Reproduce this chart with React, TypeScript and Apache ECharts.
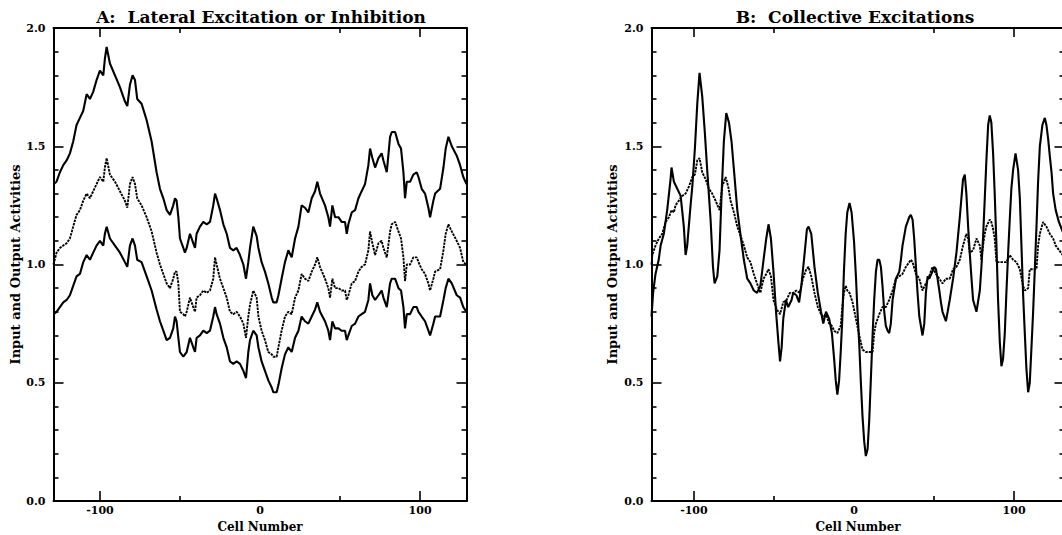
import React, { useEffect, useRef } from 'react';
import * as echarts from 'echarts';

// ---------- Panel A: Lateral Excitation or Inhibition ----------
const aCells = [
  -129, -127.1, -125, -122.9, -120.8, -118.75, -116.7, -114.6, -112.5, -110.4,
  -108.3, -106.25, -104.2, -102.1, -100, -97.9, -96.9, -95.8, -93.75, -90.6,
  -87.5, -84.4, -82.9, -81.25, -79.6, -78.1, -76.7, -74, -70.8, -67.7,
  -64.6, -62.5, -60.4, -58.3, -56.25, -54.2, -53.1, -52.1, -51, -50,
  -47.9, -46.9, -45.8, -43.75, -41.7, -40.6, -39.6, -37.5, -35.4, -33.3,
  -31.25, -29.2, -28.1, -27.1, -25, -22.9, -20.8, -18.75, -16.7, -14.6,
  -12.5, -10.4, -8.75, -7.3, -6.25, -4.2, -2.1, -1, 1, 3.1,
  5.2, 7.3, 8.3, 10.4, 11.5, 13.5, 15.6, 17.7, 19.8, 21.9,
  24, 26, 28.1, 30.2, 32.3, 34.4, 35.8, 37.5, 40.6, 42.7,
  43.75, 45.2, 46.9, 49, 51, 53.1, 54.2, 55.2, 57.3, 59.4,
  61.5, 63.5, 65.6, 67.7, 68.75, 70.2, 71.9, 74, 76, 77.1,
  79.2, 81.25, 82.3, 84.4, 86.5, 88.1, 89.6, 90.6, 91.7, 93.75,
  95.8, 97.9, 99, 101, 103.1, 105.2, 106.25, 108.3, 109.4, 112.5,
  114.6, 116, 117.7, 119.8, 122.9, 125, 127, 129,
];
const aExcitation = [
  1.34, 1.35, 1.39, 1.42, 1.44, 1.47, 1.52, 1.59, 1.62, 1.65,
  1.72, 1.70, 1.73, 1.78, 1.82, 1.80, 1.87, 1.92, 1.85, 1.80,
  1.75, 1.69, 1.67, 1.76, 1.80, 1.78, 1.70, 1.68, 1.61, 1.52,
  1.39, 1.32, 1.28, 1.23, 1.21, 1.25, 1.28, 1.27, 1.20, 1.11,
  1.07, 1.05, 1.07, 1.13, 1.09, 1.07, 1.13, 1.16, 1.18, 1.17,
  1.18, 1.25, 1.30, 1.28, 1.23, 1.17, 1.13, 1.07, 1.06, 1.07,
  1.04, 1.00, 0.94, 1.01, 1.07, 1.16, 1.12, 1.07, 1.01, 0.97,
  0.92, 0.86, 0.84, 0.84, 0.87, 0.94, 1.01, 1.06, 1.03, 1.11,
  1.16, 1.25, 1.24, 1.22, 1.28, 1.31, 1.35, 1.30, 1.25, 1.20,
  1.16, 1.25, 1.20, 1.20, 1.18, 1.18, 1.13, 1.17, 1.22, 1.23,
  1.28, 1.31, 1.34, 1.42, 1.49, 1.45, 1.41, 1.45, 1.47, 1.44,
  1.39, 1.54, 1.56, 1.56, 1.51, 1.49, 1.39, 1.28, 1.35, 1.35,
  1.38, 1.39, 1.37, 1.32, 1.30, 1.24, 1.20, 1.27, 1.30, 1.32,
  1.41, 1.49, 1.54, 1.50, 1.46, 1.42, 1.37, 1.34,
];
const aInput = [
  1.00, 1.05, 1.07, 1.08, 1.09, 1.11, 1.16, 1.21, 1.23, 1.27,
  1.30, 1.28, 1.31, 1.34, 1.37, 1.35, 1.41, 1.45, 1.38, 1.35,
  1.31, 1.27, 1.24, 1.34, 1.37, 1.34, 1.28, 1.25, 1.20, 1.14,
  1.05, 1.00, 0.96, 0.92, 0.90, 0.94, 0.97, 0.97, 0.92, 0.80,
  0.79, 0.78, 0.80, 0.86, 0.82, 0.80, 0.86, 0.87, 0.89, 0.88,
  0.89, 0.94, 1.03, 1.00, 0.94, 0.90, 0.86, 0.80, 0.79, 0.80,
  0.78, 0.75, 0.69, 0.78, 0.83, 0.89, 0.86, 0.78, 0.72, 0.68,
  0.63, 0.62, 0.61, 0.61, 0.65, 0.72, 0.78, 0.80, 0.79, 0.86,
  0.89, 0.96, 0.94, 0.93, 0.97, 1.00, 1.03, 0.99, 0.94, 0.90,
  0.86, 0.94, 0.90, 0.90, 0.89, 0.89, 0.85, 0.87, 0.92, 0.93,
  0.97, 0.99, 1.00, 1.06, 1.14, 1.09, 1.04, 1.09, 1.10, 1.07,
  1.03, 1.14, 1.17, 1.18, 1.14, 1.11, 1.03, 0.93, 1.00, 1.00,
  1.03, 1.03, 1.01, 0.98, 0.96, 0.92, 0.89, 0.94, 0.97, 0.98,
  1.06, 1.13, 1.17, 1.14, 1.10, 1.07, 1.01, 1.00,
];
const aInhibition = [
  0.79, 0.80, 0.82, 0.84, 0.85, 0.87, 0.91, 0.95, 0.96, 1.01,
  1.04, 1.02, 1.05, 1.08, 1.10, 1.08, 1.13, 1.16, 1.11, 1.08,
  1.05, 1.01, 0.99, 1.08, 1.11, 1.08, 1.02, 1.01, 0.95, 0.89,
  0.81, 0.76, 0.72, 0.68, 0.69, 0.73, 0.78, 0.76, 0.69, 0.63,
  0.61, 0.62, 0.63, 0.69, 0.65, 0.63, 0.69, 0.70, 0.72, 0.71,
  0.72, 0.78, 0.82, 0.79, 0.75, 0.69, 0.65, 0.59, 0.58, 0.59,
  0.58, 0.55, 0.52, 0.63, 0.68, 0.72, 0.70, 0.65, 0.59, 0.55,
  0.51, 0.48, 0.46, 0.46, 0.49, 0.56, 0.62, 0.65, 0.63, 0.69,
  0.72, 0.78, 0.76, 0.75, 0.78, 0.81, 0.84, 0.80, 0.76, 0.72,
  0.68, 0.76, 0.73, 0.73, 0.72, 0.72, 0.68, 0.70, 0.74, 0.75,
  0.78, 0.79, 0.80, 0.85, 0.92, 0.87, 0.85, 0.87, 0.89, 0.86,
  0.82, 0.92, 0.94, 0.94, 0.90, 0.89, 0.82, 0.73, 0.79, 0.79,
  0.82, 0.82, 0.80, 0.78, 0.76, 0.72, 0.70, 0.75, 0.78, 0.78,
  0.85, 0.90, 0.94, 0.92, 0.87, 0.86, 0.82, 0.80,
];

// ---------- Panel B: Collective Excitations ----------
const bCellsOut = [
  -126.5, -125.5, -124, -122, -120.8, -118.8, -116.7, -114.6, -114, -112.5,
  -110.4, -108.3, -106.3, -105.2, -104.2, -102.1, -101, -99.4, -97.9, -96.5,
  -94.8, -93.2, -91.7, -89.6, -88.1, -87.1, -85.4, -84, -82.7, -81.3,
  -79.8, -78.1, -76.5, -75, -72.9, -70.8, -68.8, -66.7, -64.7, -62.6,
  -60.6, -58.5, -56.5, -54.8, -53.4, -51.9, -50.3, -48.7, -47.2, -46.2,
  -45.2, -44.2, -42.5, -41.1, -39, -38, -36, -34.3, -32.9, -30.8,
  -29.4, -28.4, -26.7, -24.7, -22.6, -20.6, -19.2, -17.5, -15.5, -13.8,
  -12.4, -11.4, -10.4, -9.3, -8.3, -7.3, -6.3, -5.2, -4.2, -2.8,
  -1.5, 0, 1.2, 2.2, 3.3, 4.3, 5.3, 6.4, 7.4, 8.5,
  9.5, 10.5, 11.6, 12.6, 13.7, 14.7, 15.8, 16.8, 17.8, 18.9,
  19.9, 21, 22, 23, 24.1, 26.2, 28.3, 29.3, 30.3, 32.4,
  34.5, 35.5, 36.6, 37.6, 38.7, 39.7, 40.8, 41.8, 42.8, 43.9,
  44.9, 46, 47, 49, 50.1, 51.2, 52.2, 53.3, 54.3, 55.3,
  57.4, 58.5, 59.8, 61.9, 64, 66.1, 68.1, 69.2, 70.2, 71.3,
  72.3, 73.3, 74.4, 76.5, 78.6, 79.6, 80.6, 81.7, 82.7, 83.8,
  84.8, 85.8, 86.9, 87.9, 89, 90, 91.1, 92.1, 93.1, 94.2,
  95.2, 96.3, 97.3, 98.3, 99.4, 100.9, 102.5, 103.6, 104.6, 105.6,
  106.7, 107.7, 108.8, 109.8, 110.8, 111.9, 112.9, 114, 115, 116.1,
  117.7, 119.2, 120.2, 121.3, 122.3, 123.4, 124.4, 126, 128, 131.5,
];
const bOutput = [
  0.78, 0.88, 0.96, 1.02, 1.08, 1.13, 1.23, 1.36, 1.41, 1.35,
  1.32, 1.29, 1.16, 1.04, 1.08, 1.25, 1.33, 1.49, 1.68, 1.81,
  1.71, 1.56, 1.40, 1.19, 0.99, 0.92, 0.95, 1.06, 1.30, 1.52,
  1.64, 1.60, 1.52, 1.40, 1.23, 1.12, 1.02, 0.94, 0.92, 0.89,
  0.88, 0.91, 1.02, 1.11, 1.17, 1.11, 0.97, 0.80, 0.67, 0.59,
  0.65, 0.77, 0.85, 0.82, 0.85, 0.88, 0.87, 0.84, 0.91, 1.05,
  1.15, 1.16, 1.13, 0.99, 0.88, 0.80, 0.75, 0.80, 0.77, 0.71,
  0.60, 0.51, 0.45, 0.51, 0.63, 0.77, 0.97, 1.13, 1.22, 1.26,
  1.22, 1.10, 0.95, 0.80, 0.66, 0.50, 0.36, 0.25, 0.19, 0.22,
  0.34, 0.51, 0.70, 0.85, 0.97, 1.02, 1.02, 0.99, 0.91, 0.80,
  0.74, 0.72, 0.71, 0.75, 0.85, 0.94, 0.97, 1.02, 1.08, 1.16,
  1.20, 1.21, 1.19, 1.11, 0.99, 0.88, 0.78, 0.74, 0.70, 0.75,
  0.88, 0.95, 0.94, 0.97, 0.99, 0.98, 0.94, 0.89, 0.84, 0.80,
  0.76, 0.80, 0.85, 0.94, 1.05, 1.20, 1.36, 1.38, 1.30, 1.16,
  1.05, 0.95, 0.85, 0.80, 0.89, 0.99, 1.11, 1.28, 1.44, 1.59,
  1.63, 1.60, 1.47, 1.30, 1.08, 0.85, 0.67, 0.57, 0.60, 0.71,
  0.88, 1.05, 1.19, 1.32, 1.40, 1.47, 1.40, 1.28, 1.08, 0.88,
  0.71, 0.56, 0.46, 0.50, 0.64, 0.80, 0.97, 1.16, 1.35, 1.50,
  1.59, 1.62, 1.59, 1.53, 1.46, 1.39, 1.30, 1.23, 1.18, 1.12,
];
const bCellsIn = [
  -126.5, -126, -124, -121.9, -119.8, -117.7, -115.6, -114, -112.5, -111.5,
  -109.4, -107.3, -105.2, -103.1, -101, -99.4, -97.9, -96.5, -94.8, -92.7,
  -90.6, -88.6, -86.5, -84, -82.3, -80.2, -78.6, -77.1, -75, -72.9,
  -70.8, -68.8, -66.7, -64.7, -62.6, -60.6, -58.5, -56.5, -54.8, -53.4,
  -51.9, -50.3, -48.2, -46.2, -44.2, -42.1, -40.1, -38, -36, -33.9,
  -31.9, -29.8, -28.4, -26.7, -24.7, -22.6, -20.6, -19.2, -17.5, -15.5,
  -13.8, -12.4, -10.4, -8.3, -7.3, -6.3, -5.2, -4.2, -2.8, -0.9,
  1.2, 3.3, 5.3, 7.4, 9.5, 11.6, 12.6, 13.7, 15.8, 17.8,
  19.9, 22, 24.1, 26.2, 28.3, 30.3, 32.4, 34.5, 35.5, 36.6,
  38.7, 40.8, 42.8, 44.9, 47, 49, 51.2, 53.3, 55.3, 57.4,
  59.8, 61.9, 64, 66.1, 68.1, 70.2, 71.3, 72.3, 74.4, 76.5,
  78.6, 79.6, 80.6, 81.7, 82.7, 84.8, 85.8, 86.9, 87.9, 89,
  91.1, 93.1, 95.2, 97.3, 98.3, 99.4, 101.5, 103.6, 105.6, 106.7,
  108.8, 109.8, 111.9, 114, 115, 116.1, 118.1, 120.2, 122.3, 124.4,
  126, 131.5,
];
const bInput = [
  1.00, 1.04, 1.08, 1.11, 1.13, 1.18, 1.20, 1.23, 1.22, 1.25,
  1.27, 1.29, 1.30, 1.33, 1.37, 1.38, 1.44, 1.45, 1.39, 1.36,
  1.32, 1.30, 1.27, 1.23, 1.33, 1.37, 1.33, 1.27, 1.22, 1.16,
  1.12, 1.08, 1.03, 1.01, 0.96, 0.92, 0.88, 0.94, 0.96, 0.98,
  0.95, 0.85, 0.81, 0.79, 0.84, 0.85, 0.88, 0.88, 0.89, 0.88,
  0.94, 0.98, 0.99, 0.95, 0.88, 0.82, 0.79, 0.78, 0.79, 0.75,
  0.74, 0.72, 0.71, 0.74, 0.82, 0.88, 0.91, 0.89, 0.88, 0.84,
  0.77, 0.70, 0.64, 0.63, 0.63, 0.63, 0.71, 0.75, 0.79, 0.82,
  0.82, 0.85, 0.89, 0.94, 0.95, 0.96, 0.99, 1.01, 1.02, 1.01,
  0.96, 0.94, 0.89, 0.92, 0.95, 0.99, 0.96, 0.94, 0.92, 0.94,
  0.94, 0.98, 0.99, 1.02, 1.08, 1.13, 1.11, 1.05, 1.06, 1.11,
  1.08, 1.02, 1.08, 1.13, 1.16, 1.19, 1.18, 1.15, 1.11, 1.01,
  1.01, 1.01, 1.01, 1.04, 1.03, 1.02, 1.01, 0.98, 0.91, 0.89,
  0.90, 0.98, 0.98, 0.98, 1.08, 1.13, 1.18, 1.16, 1.13, 1.11,
  1.08, 1.03,
];

// ---------- Axis texts and ticks ----------
const titles = ['A:  Lateral Excitation or Inhibition', 'B:  Collective Excitations'];
const xName = 'Cell Number';
const yName = 'Input and Output Activities';
const xLabelValues = [-100, 0, 100];
const xMajorSpan = 100; // major ticks at -100, 0, 100
const xMinorSpan = 50;  // minor ticks at -50, 50
const aRange = [-129, 129];
const bRange = [-126.5, 131.5];

const FONT = '"DejaVu Serif", "Liberation Serif", serif';
const BLACK = '#000';
const TICK_STYLE = { color: BLACK, width: 1.6 };
const AXIS_STYLE = { color: BLACK, width: 2 };

function pairs(xs: number[], ys: number[]) {
  return xs.map((x, i) => [x, ys[i]]);
}

type PanelCfg = { left: number; top: number; width: number; height: number; range: number[]; nameGap: number };

// One panel = a main grid (data, labels, frame) plus thin helper grids whose
// outward-pointing axis ticks land inside the main plot box.
function buildPanel(p: PanelCfg, gridBase: number) {
  const { left, top, width, height, range } = p;
  const bottom = top + height;
  const ppc = width / (range[1] - range[0]);
  const spanGrid = (span: number, y: number, h: number) => ({
    left: left + (-span - range[0]) * ppc, top: y, width: 2 * span * ppc, height: h, outerBoundsMode: 'none',
  });
  const grids = [
    { left, top, width, height, outerBoundsMode: 'none' },                   // 0 main
    { left: left - 50, top, width: 50, height, outerBoundsMode: 'none' },    // 1 left-edge ticks
    { left: left + width, top, width: 40, height, outerBoundsMode: 'none' }, // 2 right-edge ticks
    spanGrid(xMajorSpan, bottom, 20),                                        // 3 bottom major ticks
    spanGrid(xMinorSpan, bottom, 20),                                        // 4 bottom minor ticks
    spanGrid(xMajorSpan, top - 20, 20),                                      // 5 top major ticks
    spanGrid(xMinorSpan, top - 20, 20),                                      // 6 top minor ticks
  ];
  const hidden = (g: number) => ({ type: 'value', gridIndex: g, show: false, min: 0, max: 1 });
  const xTickAxis = (g: number, position: string, length: number, span: number) => ({
    type: 'value', gridIndex: g, position, min: -span, max: span, interval: 2 * span,
    splitLine: { show: false },
    axisLine: { show: false, onZero: false },
    axisTick: { show: true, inside: false, length, lineStyle: TICK_STYLE },
    axisLabel: { show: false },
  });
  const yTickAxis = (g: number, position: string, line: boolean) => ({
    type: 'value', gridIndex: g, position, min: 0, max: 2, interval: 0.5,
    splitLine: { show: false }, minorSplitLine: { show: false },
    axisLine: { show: line, onZero: false, lineStyle: AXIS_STYLE },
    axisTick: { show: true, inside: false, length: 10, lineStyle: TICK_STYLE },
    minorTick: { show: true, splitNumber: 5, length: 5, lineStyle: TICK_STYLE },
    axisLabel: { show: false },
  });

  const xAxes = [
    {
      type: 'value', gridIndex: gridBase, position: 'bottom', min: range[0], max: range[1],
      splitLine: { show: false },
      axisLine: { show: true, onZero: false, lineStyle: AXIS_STYLE },
      axisTick: { show: false },
      axisLabel: {
        show: true, customValues: xLabelValues, margin: 4, color: BLACK,
        fontFamily: FONT, fontWeight: 'bold', fontSize: 11,
      },
      name: xName, nameLocation: 'middle', nameGap: 18,
      nameTextStyle: { color: BLACK, fontFamily: FONT, fontWeight: 'bold', fontSize: 12 },
    },
    {
      type: 'value', gridIndex: gridBase, position: 'top', min: range[0], max: range[1],
      splitLine: { show: false },
      axisLine: { show: true, onZero: false, lineStyle: AXIS_STYLE },
      axisTick: { show: false },
      axisLabel: { show: false },
    },
    hidden(gridBase + 1),
    hidden(gridBase + 2),
    xTickAxis(gridBase + 3, 'top', 10, xMajorSpan),
    xTickAxis(gridBase + 4, 'top', 5, xMinorSpan),
    xTickAxis(gridBase + 5, 'bottom', 9, xMajorSpan),
    xTickAxis(gridBase + 6, 'bottom', 5, xMinorSpan),
  ];
  const yAxes = [
    {
      type: 'value', gridIndex: gridBase, position: 'left', min: 0, max: 2, interval: 0.5,
      splitLine: { show: false },
      axisLine: { show: true, onZero: false, lineStyle: AXIS_STYLE },
      axisTick: { show: false },
      axisLabel: {
        show: true, margin: 8, color: BLACK, fontFamily: FONT, fontWeight: 'bold', fontSize: 11,
        formatter: (v: number) => v.toFixed(1),
      },
      name: yName, nameLocation: 'middle', nameGap: p.nameGap, nameRotate: 90,
      nameTextStyle: { color: BLACK, fontFamily: FONT, fontWeight: 'bold', fontSize: 13 },
    },
    yTickAxis(gridBase + 1, 'right', false),
    yTickAxis(gridBase + 2, 'left', true),
    hidden(gridBase + 3),
    hidden(gridBase + 4),
    hidden(gridBase + 5),
    hidden(gridBase + 6),
  ];
  return { grids, xAxes, yAxes };
}

function lineSeries(data: number[][], xi: number, yi: number, dashed: boolean) {
  return {
    type: 'line',
    xAxisIndex: xi,
    yAxisIndex: yi,
    data,
    showSymbol: false,
    symbol: 'none',
    silent: true,
    z: 3,
    lineStyle: { color: BLACK, width: dashed ? 1.9 : 2.1, type: dashed ? [2.5, 1] : 'solid' },
    itemStyle: { color: BLACK },
  };
}

export default function App() {
  const ref = useRef<HTMLDivElement>(null);
  useEffect(() => {
    if (!ref.current) return;
    const chart = echarts.init(ref.current, null, { renderer: 'svg' });
    const pa = buildPanel({ left: 53.5, top: 28, width: 413, height: 473, range: aRange, nameGap: 30 }, 0);
    const pb = buildPanel({ left: 651.5, top: 28, width: 413, height: 473, range: bRange, nameGap: 33 }, pa.grids.length);
    const bx = pa.xAxes.length;
    const by = pa.yAxes.length;
    chart.setOption({
      animation: false,
      backgroundColor: '#fff',
      grid: [...pa.grids, ...pb.grids],
      xAxis: [...pa.xAxes, ...pb.xAxes],
      yAxis: [...pa.yAxes, ...pb.yAxes],
      graphic: [
        {
          type: 'text', x: 261, y: 17,
          style: {
            text: titles[0], fill: BLACK, font: `bold 17px ${FONT}`,
            textAlign: 'center', textVerticalAlign: 'middle',
          },
        },
        {
          type: 'text', x: 855, y: 17,
          style: {
            text: titles[1], fill: BLACK, font: `bold 17px ${FONT}`,
            textAlign: 'center', textVerticalAlign: 'middle',
          },
        },
      ],
      series: [
        lineSeries(pairs(aCells, aExcitation), 0, 0, false),
        lineSeries(pairs(aCells, aInput), 0, 0, true),
        lineSeries(pairs(aCells, aInhibition), 0, 0, false),
        lineSeries(pairs(bCellsIn, bInput), bx, by, true),
        lineSeries(pairs(bCellsOut, bOutput), bx, by, false),
      ],
    });
    return () => chart.dispose();
  }, []);
  return (
    <div
      ref={ref}
      style={{ position: 'absolute', left: 0, top: 0, width: 1062, height: 535, background: '#fff', overflow: 'hidden' }}
    />
  );
}
